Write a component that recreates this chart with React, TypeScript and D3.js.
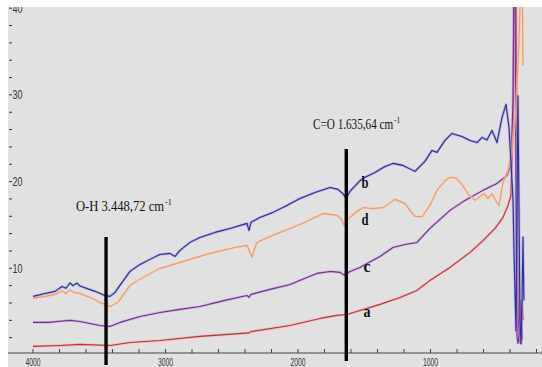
import React from 'react';
import * as d3 from 'd3';

const W = 542;
const H = 367;

// FTIR transmittance traces: [wavenumber (cm-1), transmittance]
const seriesA: [number, number][] = [
  [4000, 0.99], [3796, 1.1], [3645, 1.22], [3419, 1.1], [3268, 1.45], [3042, 1.68],
  [2740, 2.15], [2370, 2.55], [2355, 2.7], [2060, 3.41], [1834, 4.22], [1706, 4.57],
  [1630, 4.68], [1532, 5.14], [1381, 5.84], [1230, 6.64], [1102, 7.45], [1004, 8.6],
  [853, 10.1], [702, 11.83], [604, 13.2], [513, 14.6], [453, 15.87], [415, 17.25],
  [393, 18.4], [377, 27.05], [370, 44], [355, 44], [347, 23.6], [340, 6.3], [332, 1.68],
  [317, 1.34], [309, 6.3], [302, 4.0],
];

const seriesB: [number, number][] = [
  [4000, 6.76], [3909, 7.1], [3834, 7.34], [3781, 7.9], [3751, 7.7], [3721, 8.3],
  [3698, 8.0], [3668, 8.3], [3645, 7.95], [3608, 7.75], [3532, 7.34], [3457, 6.87],
  [3419, 6.76], [3381, 7.22], [3328, 8.37], [3268, 9.64], [3192, 10.45], [3117, 11.03],
  [3042, 11.6], [2966, 11.72], [2928, 11.37], [2891, 12.06], [2815, 12.99], [2740, 13.56],
  [2627, 14.14], [2513, 14.6], [2385, 15.18], [2370, 14.37], [2355, 15.3], [2287, 15.87],
  [2189, 16.45], [2098, 17.14], [1985, 18.06], [1872, 18.75], [1758, 19.33], [1698, 19.1],
  [1660, 18.6], [1638, 18.06], [1608, 18.87], [1532, 20.1], [1494, 20.5], [1419, 21.06],
  [1343, 21.75], [1283, 22.1], [1208, 21.87], [1117, 21.18], [1042, 22.33], [989, 23.6],
  [951, 23.37], [891, 24.75], [838, 25.55], [763, 25.2], [702, 24.75], [649, 24.5],
  [611, 25.1], [574, 24.8], [536, 25.9], [498, 24.5], [460, 27.4], [430, 28.9],
  [408, 26.3], [393, 22.4], [377, 17.8], [370, 12.1], [355, 2.8], [347, 17.8],
  [340, 29.9], [332, 16.7], [325, 4.0], [317, 1.3], [309, 6.3], [302, 13.6], [295, 6.3],
];

const seriesC: [number, number][] = [
  [4000, 3.76], [3872, 3.76], [3800, 3.9], [3721, 3.99], [3645, 3.87], [3570, 3.64],
  [3494, 3.41], [3419, 3.3], [3343, 3.76], [3192, 4.45], [3042, 4.91], [2891, 5.26],
  [2740, 5.6], [2551, 6.3], [2385, 6.87], [2370, 6.64], [2355, 6.99], [2211, 7.57],
  [2060, 8.14], [1947, 8.84], [1857, 9.41], [1758, 9.64], [1683, 9.53], [1645, 9.18],
  [1608, 9.64], [1532, 10.1], [1479, 10.56], [1381, 11.37], [1283, 12.4], [1192, 12.75],
  [1102, 12.98], [1004, 14.6], [853, 16.68], [740, 17.83], [604, 18.99], [498, 19.79],
  [423, 20.7], [393, 21.87], [377, 29.4], [370, 44], [362, 44], [355, 17.8], [347, 2.1],
  [340, 1.34], [325, 2.8], [317, 6.3], [309, 1.7],
];

const seriesD: [number, number][] = [
  [4000, 6.53], [3909, 6.76], [3834, 6.99], [3781, 7.4], [3751, 7.1], [3721, 7.5],
  [3691, 7.22], [3645, 7.1], [3570, 6.64], [3494, 6.07], [3419, 5.6], [3359, 6.07],
  [3268, 8.03], [3155, 9.07], [3042, 9.99], [2913, 10.57], [2815, 11.03], [2664, 11.72],
  [2475, 12.4], [2385, 12.64], [2362, 11.83], [2347, 11.26], [2332, 12.06], [2310, 12.99],
  [2211, 13.68], [2060, 14.6], [1947, 15.3], [1811, 16.33], [1706, 16.1], [1675, 15.75],
  [1653, 14.95], [1630, 15.64], [1608, 15.87], [1555, 16.56], [1509, 17.0], [1434, 16.9],
  [1358, 17.0], [1268, 17.95], [1192, 17.48], [1155, 16.68], [1117, 15.98], [1064, 15.98],
  [1004, 17.25], [951, 18.99], [891, 20.1], [853, 20.5], [808, 20.4], [763, 19.7],
  [717, 18.6], [664, 17.83], [626, 18.3], [596, 18.6], [566, 18.06], [536, 18.6],
  [506, 17.8], [483, 17.25], [453, 19.9], [415, 21.3], [385, 23.6], [355, 28.2],
  [332, 36.3], [317, 44], [309, 44], [302, 33.4],
];

const seriesNames = ['a', 'c', 'd', 'b'];
const seriesData = [seriesA, seriesC, seriesD, seriesB];
const seriesColors = ['#c4303a', '#74318e', '#f29866', '#2c2ca2'];
const seriesHalo = ['#f2a0a4', '#c890d8', '#f8c8a8', '#9090d8'];

// Curve letters and where they sit (wavenumber, transmittance at baseline)
const letterNames = ['b', 'd', 'c', 'a'];
const letterWn = [1520, 1520, 1505, 1505];
const letterVal = [19.3, 15.0, 9.55, 4.35];

const xTickValues = [4000, 3000, 2000, 1000];
const yTickValues = [10, 20, 30, 40];

const peakWn = [3448.72, 1635.64];
const peakLabels = ['O-H 3.448,72 cm', 'C=O 1.635,64 cm'];

export default function App() {
  const x = d3.scaleLinear().domain([4000, 0]).range([33, 563]);
  const y = d3.scaleLinear().domain([0, 40]).range([355.0, 8.2]);
  const line = d3
    .line<[number, number]>()
    .x((d) => x(d[0]))
    .y((d) => y(d[1]));

  const minorX = d3.range(4000, 100, -200);
  const minorY = d3.range(2, 41, 2);
  const axisY = 353;

  const peakTop = [237, 149];
  const peakBottom = [365, 361];
  const labelPos = [
    { x: 76, y: 211, sx: 0.9 },
    { x: 313, y: 129, sx: 0.8 },
  ];

  return (
    <svg
      width={W}
      height={H}
      style={{ position: 'absolute', left: 0, top: 0, background: '#fff' }}
    >
      <defs>
        <clipPath id="plot">
          <rect x={8} y={7} width={534} height={346} />
        </clipPath>
        <clipPath id="frame">
          <rect x={8} y={7} width={534} height={360} />
        </clipPath>
      </defs>
      <rect x={8} y={7} width={534} height={360} fill="#e1e1e1" />

      <g clipPath="url(#frame)">
        {/* y ticks and labels */}
        {minorY.map((v) => (
          <line key={'yt' + v} x1={9} x2={12} y1={y(v)} y2={y(v)} stroke="#333" strokeWidth={1} />
        ))}
        {yTickValues.map((v) => (
          <text
            key={'yl' + v}
            x={12.5}
            y={y(v) + 4.5}
            fontFamily="'Liberation Sans Narrow', 'Liberation Sans', sans-serif"
            fontSize={12.5}
            fill="#333"
            textLength={10}
            lengthAdjust="spacingAndGlyphs"
          >
            {v}
          </text>
        ))}

        {/* x axis */}
        <line x1={8} x2={542} y1={axisY} y2={axisY} stroke="#444" strokeWidth={1.2} />
        {minorX.map((v) => (
          <line key={'xt' + v} x1={x(v)} x2={x(v)} y1={axisY - 4} y2={axisY} stroke="#444" strokeWidth={1} />
        ))}
        {xTickValues.map((v) => (
          <text
            key={'xl' + v}
            x={x(v)}
            y={366}
            textAnchor="middle"
            fontFamily="'Liberation Sans Narrow', 'Liberation Sans', sans-serif"
            fontSize={10}
            fill="#333"
            textLength={15}
            lengthAdjust="spacingAndGlyphs"
          >
            {v}
          </text>
        ))}
      </g>

      {/* spectra */}
      <g clipPath="url(#plot)" fill="none" strokeLinejoin="round">
        {seriesData.map((s, i) => (
          <g key={seriesNames[i]}>
            <path d={line(s) || ''} stroke={seriesHalo[i]} strokeWidth={2.6} opacity={0.55} />
            <path d={line(s) || ''} stroke={seriesColors[i]} strokeWidth={1.1} />
          </g>
        ))}
      </g>

      {/* peak markers */}
      {peakWn.map((wn, i) => (
        <line
          key={'pk' + i}
          x1={x(wn)}
          x2={x(wn)}
          y1={peakTop[i]}
          y2={peakBottom[i]}
          stroke="#000"
          strokeWidth={3.4}
        />
      ))}
      {peakLabels.map((t, i) => (
        <g
          key={'pl' + i}
          transform={`translate(${labelPos[i].x},${labelPos[i].y}) scale(${labelPos[i].sx},1)`}
        >
          <text
            x={0}
            y={0}
            fontFamily="'Liberation Serif', 'Times New Roman', serif"
            fontSize={14}
            fill="#111"
          >
            {t}
            <tspan fontSize={9} dx={1} dy={-6}>-1</tspan>
          </text>
        </g>
      ))}

      {/* curve letters */}
      {letterNames.map((n, i) => (
        <text
          key={'lt' + n}
          x={x(letterWn[i])}
          y={y(letterVal[i])}
          fontFamily="'Liberation Serif', 'Times New Roman', serif"
          fontWeight="bold"
          fontSize={16}
          fill="#111"
          textLength={7}
          lengthAdjust="spacingAndGlyphs"
        >
          {n}
        </text>
      ))}
    </svg>
  );
}
